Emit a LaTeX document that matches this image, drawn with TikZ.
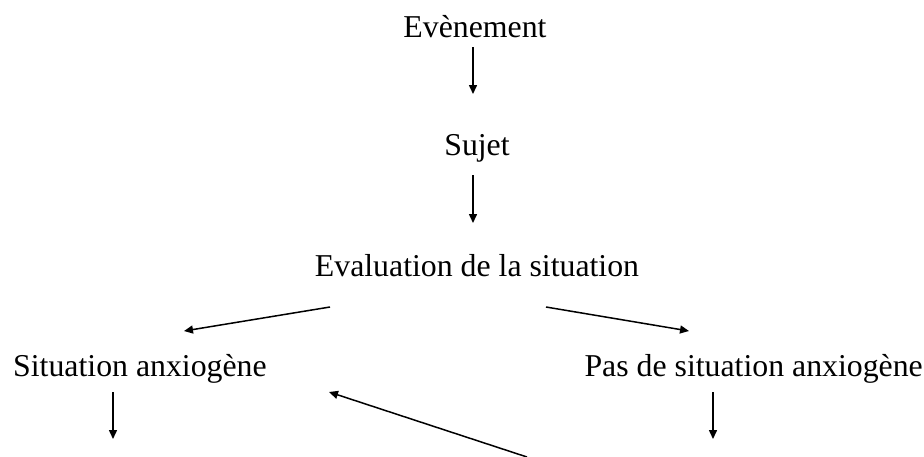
\documentclass[tikz,border=0pt]{standalone}
\usepackage{fontspec}
\setmainfont{Liberation Serif}
\usetikzlibrary{arrows.meta}
\begin{document}
\begin{tikzpicture}[x=1pt,y=-1pt,
  lbl/.style={inner sep=0pt,anchor=base,font=\fontsize{31.8}{36}\selectfont},
  arr/.style={line width=1.5pt,-{Triangle[length=9pt,width=8pt]}}]
\useasboundingbox (0,0) rectangle (924,456);
\node[lbl] (ev) at (475,37) {Evènement};
\node[lbl] (su) at (477,155) {Sujet};
\node[lbl] (evs) at (477,276) {Evaluation de la situation};
\node[lbl,anchor=base west] (sa) at (13,376) {Situation anxiogène};
\node[lbl,anchor=base east] (ps) at (923,376) {Pas de situation anxiogène};
\coordinate (a1s) at (473,47);  \coordinate (a1e) at (473,94);
\coordinate (a2s) at (473,175); \coordinate (a2e) at (473,223);
\coordinate (lds) at (330,307); \coordinate (lde) at (184,331);
\coordinate (rds) at (546,307); \coordinate (rde) at (689,331);
\coordinate (lvs) at (113,392); \coordinate (lve) at (113,439);
\coordinate (rvs) at (713,392); \coordinate (rve) at (713,439);
\coordinate (bks) at (527,457); \coordinate (bke) at (329,392);
\draw[arr] (a1s) -- (a1e);
\draw[arr] (a2s) -- (a2e);
\draw[arr] (lds) -- (lde);
\draw[arr] (rds) -- (rde);
\draw[arr] (lvs) -- (lve);
\draw[arr] (rvs) -- (rve);
\draw[arr] (bks) -- (bke);
\end{tikzpicture}
\end{document}
